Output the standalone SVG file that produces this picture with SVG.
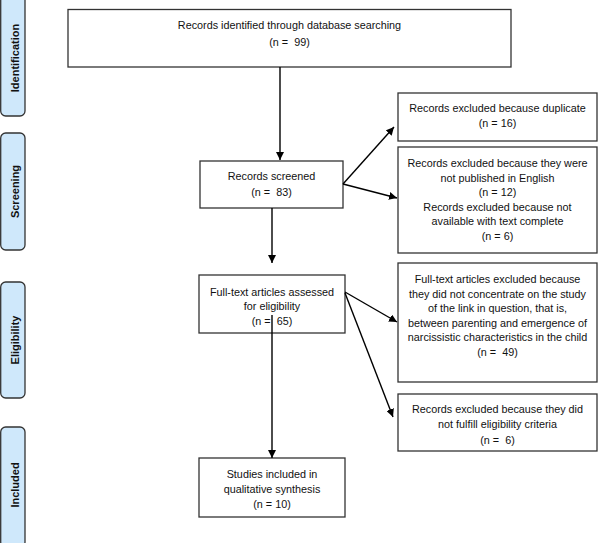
<svg xmlns="http://www.w3.org/2000/svg" width="600" height="543" viewBox="0 0 600 543">
<defs>
<marker id="ah" viewBox="0 0 10 10" refX="10" refY="5" markerWidth="8" markerHeight="8" markerUnits="userSpaceOnUse" orient="auto">
<path d="M0,0 L10,5 L0,10 z" fill="#000"/>
</marker>
</defs>
<style>
.box{fill:#fff;stroke:#333;stroke-width:1.3}
.lab{fill:#cfe8fb;stroke:#333;stroke-width:1.3}
.t{font-family:"Liberation Sans",Arial,sans-serif;font-size:10.8px;fill:#111;text-anchor:middle;white-space:pre}
.lt{font-family:"Liberation Sans",Arial,sans-serif;font-size:11px;font-weight:bold;fill:#111;text-anchor:middle}
.c{stroke:#000;stroke-width:1.4;fill:none;marker-end:url(#ah)}
</style>
<g id="label-identification">
<rect class="lab" x="0.7" y="-5" width="24.3" height="121" rx="5"/>
<text class="lt" transform="translate(18.5,58) rotate(-90)">Identification</text>
</g>
<g id="label-screening">
<rect class="lab" x="0.7" y="133" width="24.3" height="117" rx="5"/>
<text class="lt" transform="translate(18.5,191.5) rotate(-90)">Screening</text>
</g>
<g id="label-eligibility">
<rect class="lab" x="0.7" y="282" width="24.3" height="116" rx="5"/>
<text class="lt" transform="translate(18.5,340) rotate(-90)">Eligibility</text>
</g>
<g id="label-included">
<rect class="lab" x="0.7" y="427" width="24.3" height="120" rx="5"/>
<text class="lt" transform="translate(18.5,485) rotate(-90)">Included</text>
</g>
<g id="identified">
<rect class="box" x="68" y="9.5" width="443" height="57.5"/>
<text class="t" x="289.5" y="29">Records identified through database searching</text>
<text class="t" x="289.5" y="46" xml:space="preserve">(n =  99)</text>
</g>
<g id="screened">
<rect class="box" x="200" y="161" width="143" height="47"/>
<text class="t" x="271.5" y="180">Records screened</text>
<text class="t" x="271.5" y="196" xml:space="preserve">(n =  83)</text>
</g>
<g id="excluded-duplicate">
<rect class="box" x="398" y="93" width="199" height="48"/>
<text class="t" x="497.5" y="112">Records excluded because duplicate</text>
<text class="t" x="497.5" y="127">(n = 16)</text>
</g>
<g id="excluded-english">
<rect class="box" x="398" y="147" width="199" height="106"/>
<text class="t" x="497.5" y="167">Records excluded because they were</text>
<text class="t" x="497.5" y="181.5">not published in English</text>
<text class="t" x="497.5" y="196">(n = 12)</text>
<text class="t" x="497.5" y="210.5">Records excluded because not</text>
<text class="t" x="497.5" y="225">available with text complete</text>
<text class="t" x="497.5" y="239.5">(n = 6)</text>
</g>
<g id="assessed">
<rect class="box" x="199" y="275" width="146" height="58"/>
<text class="t" x="272" y="296">Full-text articles assessed</text>
<text class="t" x="272" y="310">for eligibility</text>
<text class="t" x="272" y="325" xml:space="preserve">(n =  65)</text>
</g>
<g id="excluded-fulltext">
<rect class="box" x="398" y="263" width="199" height="119"/>
<text class="t" x="497.5" y="283">Full-text articles excluded because</text>
<text class="t" x="497.5" y="297.5">they did not concentrate on the study</text>
<text class="t" x="497.5" y="312">of the link in question, that is,</text>
<text class="t" x="497.5" y="326.5">between parenting and emergence of</text>
<text class="t" x="497.5" y="341">narcissistic characteristics in the child</text>
<text class="t" x="497.5" y="355.5" xml:space="preserve">(n =  49)</text>
</g>
<g id="excluded-criteria">
<rect class="box" x="398" y="394" width="199" height="57"/>
<text class="t" x="497.5" y="413">Records excluded because they did</text>
<text class="t" x="497.5" y="428">not fulfill eligibility criteria</text>
<text class="t" x="497.5" y="444" xml:space="preserve">(n =  6)</text>
</g>
<g id="included">
<rect class="box" x="199" y="458" width="146" height="59"/>
<text class="t" x="272" y="478">Studies included in</text>
<text class="t" x="272" y="493">qualitative synthesis</text>
<text class="t" x="272" y="508">(n = 10)</text>
</g>
<g id="connectors">
<line class="c" x1="280" y1="67" x2="280" y2="160"/>
<line class="c" x1="343" y1="184" x2="394" y2="127"/>
<line class="c" x1="343" y1="184" x2="397" y2="198"/>
<line class="c" x1="272" y1="208" x2="272" y2="263"/>
<line class="c" x1="345" y1="292" x2="397" y2="322"/>
<line class="c" x1="345" y1="293" x2="393" y2="417"/>
<line class="c" x1="272" y1="315" x2="272" y2="458"/>
</g>
</svg>
